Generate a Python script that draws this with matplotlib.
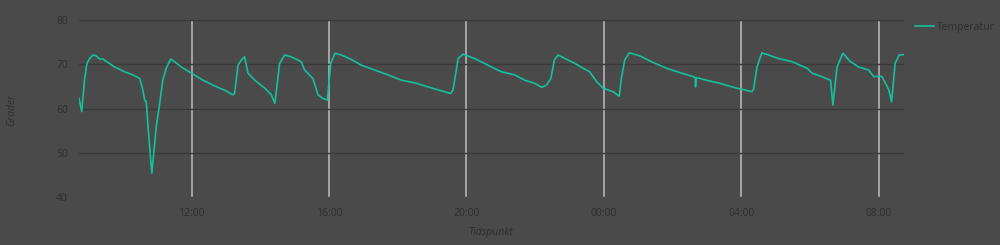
import numpy as np
import pandas as pd
import matplotlib
matplotlib.use('Agg')
import matplotlib.pyplot as plt
import matplotlib.dates as mdates

# timer siden midnatt dag 1, og temperatur i grader
tider = [8.72, 8.80, 8.88, 8.95, 9.03, 9.13, 9.22, 9.32, 9.42, 9.56, 9.76, 10.05, 10.29, 10.49,
         10.58, 10.63, 10.68, 10.73, 10.84, 10.97, 11.07, 11.16, 11.26, 11.39, 11.50, 11.70,
         11.99, 12.33, 12.67, 13.00, 13.20, 13.25, 13.35, 13.45, 13.54, 13.64, 13.84, 14.13,
         14.32, 14.42, 14.47, 14.56, 14.71, 14.90, 15.19, 15.29, 15.53, 15.68, 15.82, 15.95,
         16.05, 16.17, 16.36, 16.65, 16.94, 17.33, 17.72, 18.11, 18.50, 18.88, 19.27, 19.54,
         19.61, 19.76, 19.90, 20.24, 20.63, 21.02, 21.41, 21.70, 21.99, 22.19, 22.33, 22.46,
         22.56, 22.67, 22.87, 23.16, 23.40, 23.59, 23.79, 23.98, 24.27, 24.45, 24.51, 24.61,
         24.74, 25.05, 25.44, 25.83, 26.22, 26.61, 26.66, 26.67, 26.69, 26.99, 27.38, 27.87,
         28.11, 28.31, 28.36, 28.46, 28.60, 28.80, 29.09, 29.48, 29.92, 30.06, 30.35, 30.60,
         30.67, 30.79, 30.96, 31.18, 31.42, 31.71, 31.86, 32.01, 32.10, 32.30, 32.38, 32.48,
         32.60, 32.74]
temperatur = [62.3, 59.3, 66.4, 70.2, 71.3, 72.1, 71.9, 71.2, 71.2, 70.4, 69.4, 68.3, 67.6, 66.8,
              64.2, 61.9, 61.5, 55.9, 45.4, 55.9, 61.2, 66.4, 69.1, 71.2, 70.6, 69.4,
              68.0, 66.4, 65.1, 64.0, 63.1, 63.4, 69.8, 71.0, 71.7, 68.0, 66.4, 64.6,
              63.1, 61.2, 64.2, 70.2, 72.1, 71.7, 70.6, 68.7, 66.8, 63.1, 62.3, 61.9,
              70.2, 72.5, 72.1, 71.1, 69.8, 68.7, 67.6, 66.4, 65.8, 64.9, 64.0, 63.4,
              64.2, 71.3, 72.3, 71.3, 69.8, 68.3, 67.6, 66.4, 65.7, 64.8, 65.3, 66.8,
              71.0, 72.1, 71.3, 70.2, 69.1, 68.3, 66.1, 64.6, 63.8, 62.8, 66.8, 71.0,
              72.6, 71.9, 70.4, 69.1, 68.1, 67.2, 67.0, 64.9, 67.0, 66.4, 65.7, 64.6,
              64.2, 63.8, 64.4, 69.4, 72.6, 72.1, 71.3, 70.6, 69.1, 68.0, 67.2, 66.4,
              60.8, 69.4, 72.5, 70.6, 69.4, 68.7, 67.2, 67.3, 67.2, 64.2, 61.5, 70.2,
              72.1, 72.2]

y_ticks = [40, 50, 60, 70, 80]

bg = '#4a4a4a'
tekst = '#2e2e2e'
linjefarge = '#14c19b'

plt.rcParams['font.family'] = ['Open Sans', 'DejaVu Sans']

start = pd.Timestamp('2023-01-01')
x = start + pd.to_timedelta(tider, unit='h')

fig = plt.figure(figsize=(10, 2.45), dpi=100)
fig.set_facecolor(bg)
ax = fig.add_axes([0.079, 0.196, 0.825, 0.722])
ax.set_facecolor(bg)

ax.plot(x, temperatur, color=linjefarge, linewidth=1.2, label='Temperatur')

ax.set_ylim(40, 80)
ax.set_yticks(y_ticks)
ax.set_xlim(x[0], x[-1])
ax.xaxis.set_major_locator(mdates.HourLocator(byhour=[0, 4, 8, 12, 16, 20]))
ax.xaxis.set_major_formatter(mdates.DateFormatter('%H:%M'))

ax.grid(axis='y', color='#3a3a3a', linewidth=1.0)
ax.grid(axis='x', color='#bdbdbd', linewidth=1.1)
ax.set_axisbelow(True)
for s in ax.spines.values():
    s.set_visible(False)
ax.tick_params(axis='both', length=0, colors=tekst, labelsize=7.5)
ax.tick_params(axis='x', pad=8)
ax.tick_params(axis='y', pad=8)

fig.text(0.490, 0.05, 'Tidspunkt', fontstyle='italic', color=tekst, fontsize=7.5,
         ha='center', va='center')
fig.text(0.012, 0.55, 'Grader', fontstyle='italic', color=tekst, fontsize=7.5,
         ha='center', va='center', rotation=90)

leg = ax.legend(loc='upper left', bbox_to_anchor=(1.002, 1.045), frameon=False,
                fontsize=7.5, handlelength=1.8, handletextpad=0.35)
for t in leg.get_texts():
    t.set_color(tekst)

fig.savefig('out.png', dpi=100, facecolor=bg)
